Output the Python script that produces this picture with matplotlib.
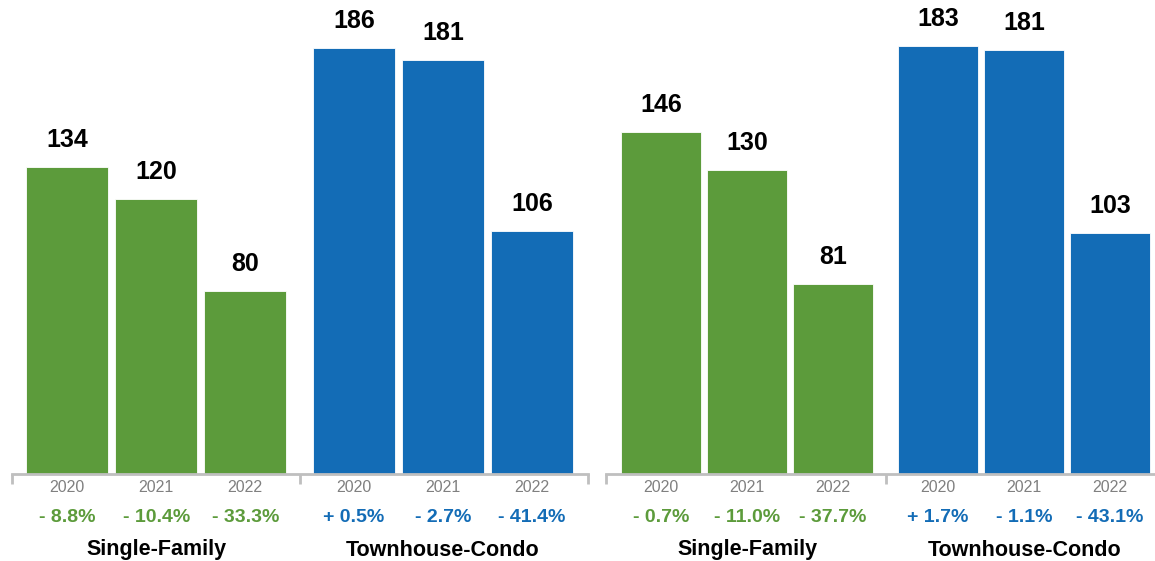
import matplotlib
matplotlib.use("Agg")
import matplotlib.pyplot as plt
import numpy as np

plt.rcParams['font.family'] = ['Liberation Sans', 'DejaVu Sans']

# data
years = ["2020", "2021", "2022"]
groups = ["Single-Family", "Townhouse-Condo"]

left_sf = [134, 120, 80]
left_tc = [186, 181, 106]
left_sf_pct = ["- 8.8%", "- 10.4%", "- 33.3%"]
left_tc_pct = ["+ 0.5%", "- 2.7%", "- 41.4%"]

right_sf = [146, 130, 81]
right_tc = [183, 181, 103]
right_sf_pct = ["- 0.7%", "- 11.0%", "- 37.7%"]
right_tc_pct = ["+ 1.7%", "- 1.1%", "- 43.1%"]

GREEN = "#5c9b3b"
BLUE = "#136cb6"
GRAY_AX = "#bfbfbf"

W, H = 1155, 561
fig = plt.figure(figsize=(W / 100, H / 100), dpi=100)


def px_axes(x0, x1, base, top):
    # pixel box (from top-left) -> figure fraction
    return fig.add_axes([x0 / W, (H - base) / H, (x1 - x0) / W, (base - top) / H])


def draw_panel(ax, sf, tc, sf_pct, tc_pct, offset, width, xlim, mid):
    x = np.arange(3)
    series = [(sf, sf_pct, GREEN, x), (tc, tc_pct, BLUE, x + offset)]
    for vals, pcts, col, xs in series:
        ax.bar(xs, vals, width=width, color=col, edgecolor="white", linewidth=0.6)
        for xi, v, yr, p in zip(xs, vals, years, pcts):
            ax.annotate(str(v), (xi, v), xytext=(0, 27), textcoords="offset pixels",
                        ha="center", va="center", fontsize=18, fontweight="bold")
            ax.annotate(yr, (xi, 0), xytext=(0, -14), textcoords="offset pixels",
                        ha="center", va="center", fontsize=11.5, color="#808080",
                        annotation_clip=False)
            ax.annotate(p, (xi, 0), xytext=(0, -44), textcoords="offset pixels",
                        ha="center", va="center", fontsize=14, fontweight="bold",
                        color=col, annotation_clip=False)
    for name, xs in zip(groups, [x, x + offset]):
        ax.annotate(name, (xs.mean(), 0), xytext=(0, -76), textcoords="offset pixels",
                    ha="center", va="center", fontsize=15.5, fontweight="bold",
                    annotation_clip=False)
    ax.set_xlim(*xlim)
    ax.set_ylim(0, 200)
    for s in ["top", "right", "left"]:
        ax.spines[s].set_visible(False)
    ax.spines["bottom"].set_color(GRAY_AX)
    ax.spines["bottom"].set_linewidth(2)
    ax.set_yticks([])
    ax.set_xticks([xlim[0], mid, xlim[1]])
    ax.set_xticklabels([])
    ax.tick_params(axis="x", direction="out", length=7, width=2, color=GRAY_AX)


ax1 = px_axes(12, 588, 474, 474 - 200 * 2.29)
draw_panel(ax1, left_sf, left_tc, left_sf_pct, left_tc_pct,
           offset=3.22, width=0.92, xlim=(-0.62, 5.85), mid=2.62)

ax2 = px_axes(606, 1160, 474, 474 - 200 * 2.34)
draw_panel(ax2, right_sf, right_tc, right_sf_pct, right_tc_pct,
           offset=3.22, width=0.93, xlim=(-0.64, 5.8), mid=2.62)

fig.savefig("out.png", dpi=100)
